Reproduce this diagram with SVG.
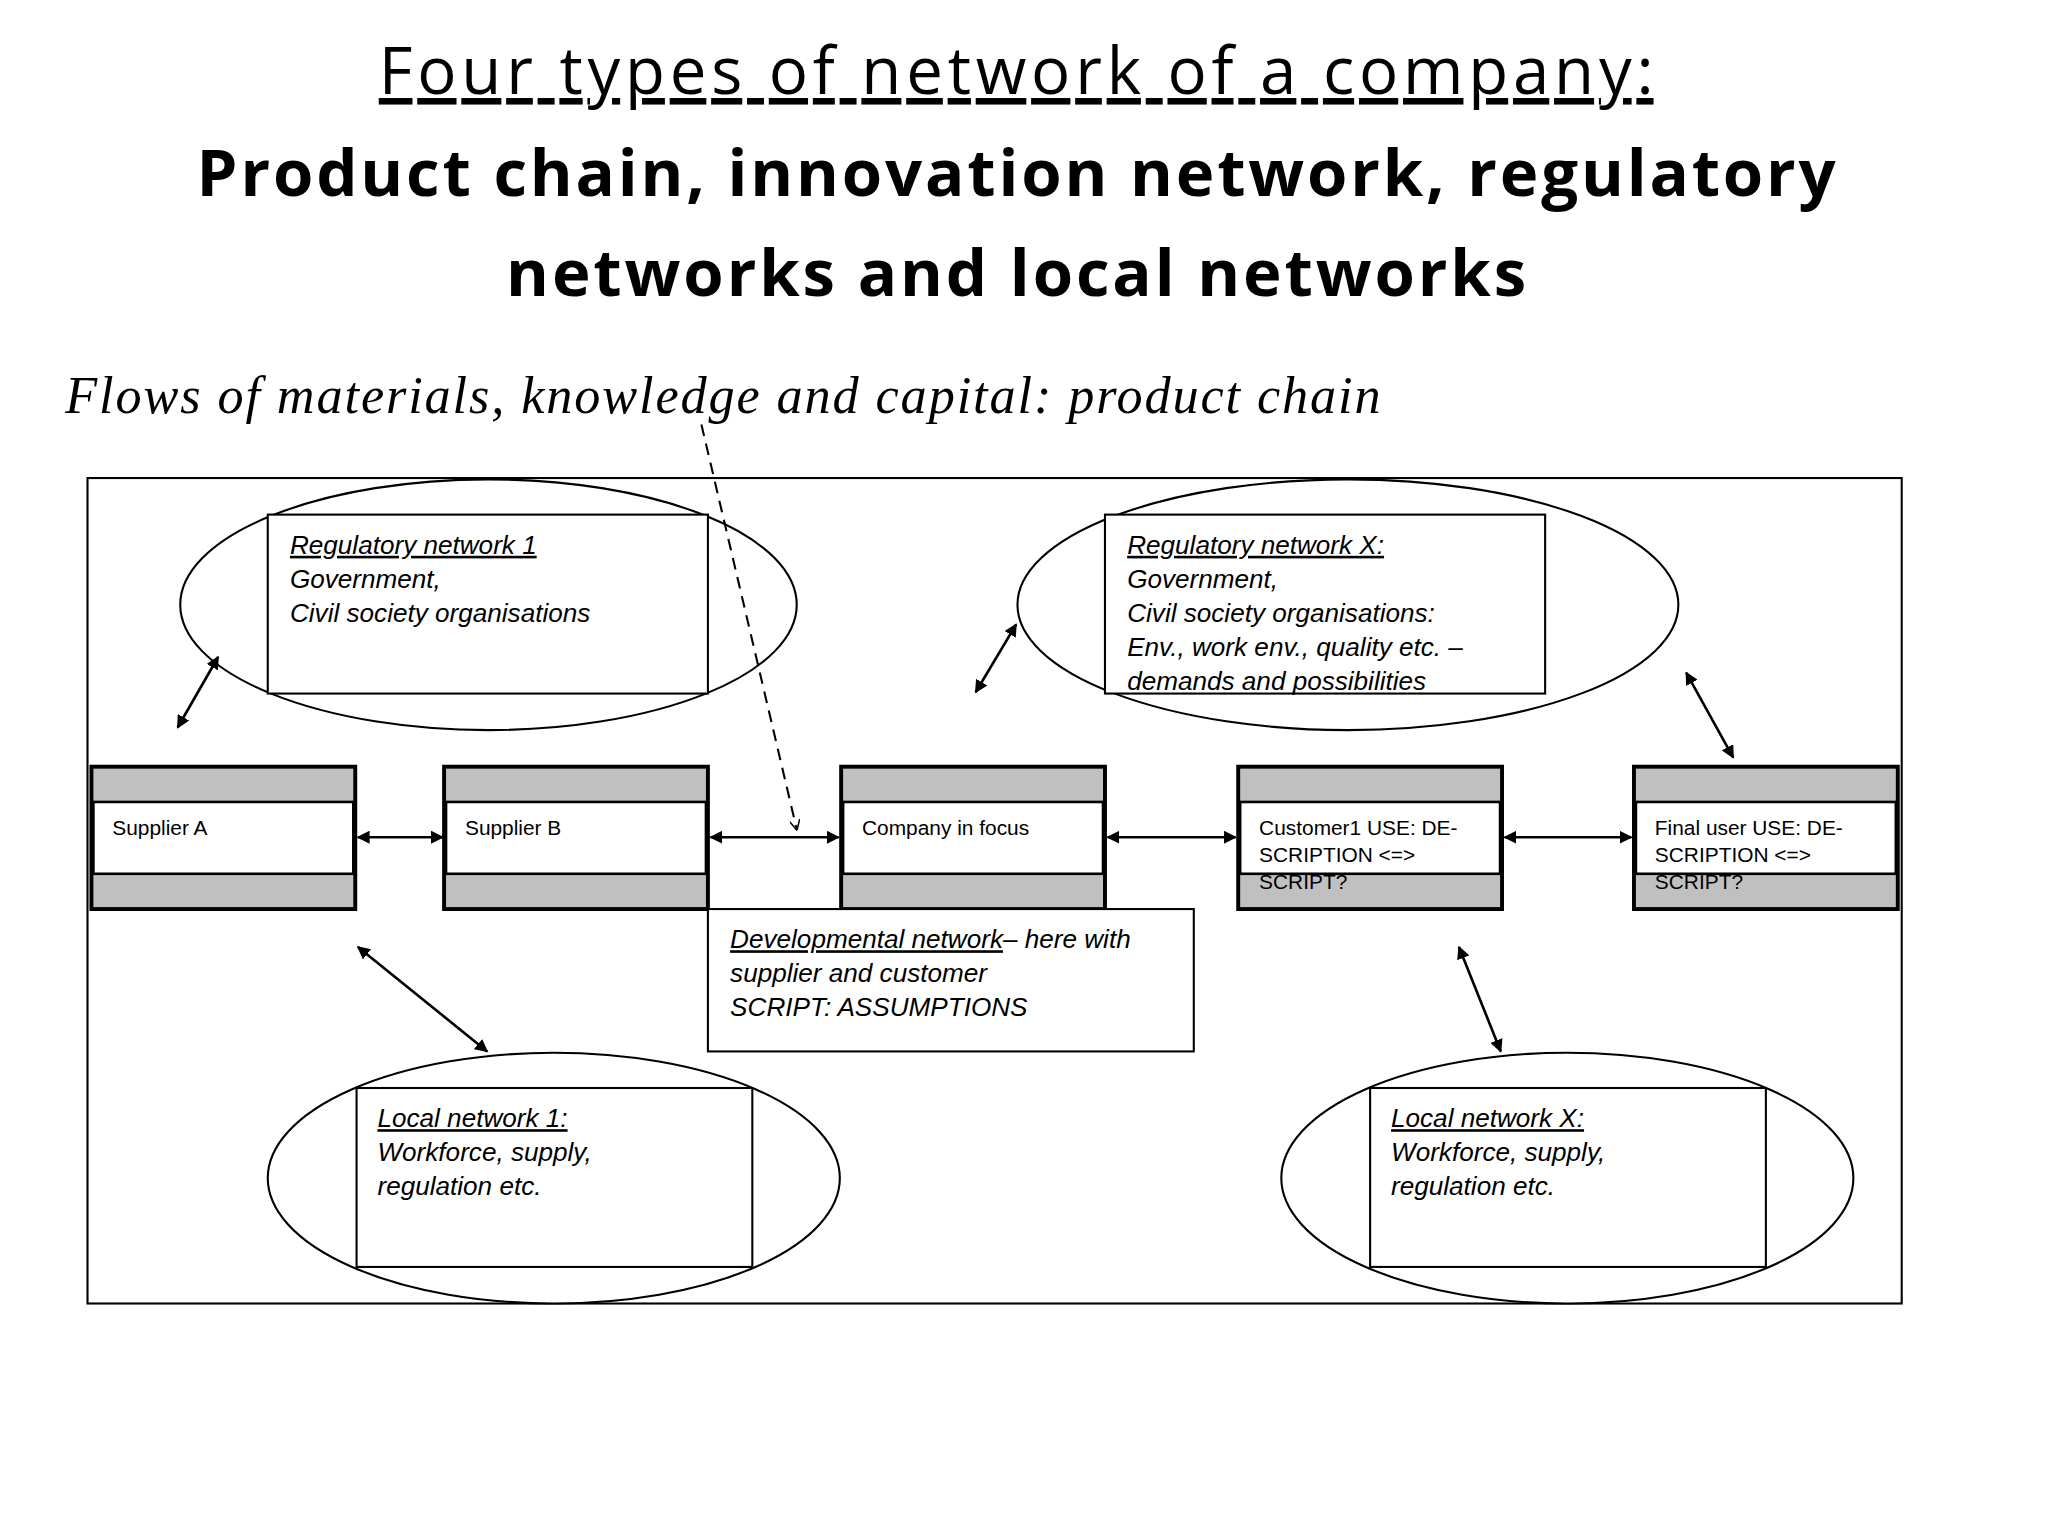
<svg xmlns="http://www.w3.org/2000/svg" width="2048" height="1536" viewBox="0 0 2048 1536">
<style>
.t{font-family:"Open Sans","Liberation Sans",sans-serif;fill:#000}
.i{font-family:"Liberation Sans",Arial,sans-serif;font-style:italic;font-size:20px}
.n{font-family:"Liberation Sans",Arial,sans-serif;font-size:16px}
.l{stroke:#000;stroke-width:1.6;fill:#fff}
.a{stroke:#000;stroke-width:2;fill:none;marker-start:url(#h);marker-end:url(#h)}
.g{fill:#c0c0c0;stroke:#000;stroke-width:3}
</style>
<defs>
<marker id="h" viewBox="0 0 10 10" refX="9" refY="5" markerWidth="5" markerHeight="5" orient="auto-start-reverse"><path d="M0,0L10,5L0,10z" fill="#000"/></marker>
<marker id="v" viewBox="0 0 10 10" refX="9" refY="5" markerWidth="8" markerHeight="8" orient="auto" markerUnits="userSpaceOnUse"><path d="M0,0L10,5L0,10" fill="none" stroke="#000" stroke-width="1.5"/></marker>
</defs>
<rect width="2048" height="1536" fill="#fff"/>
<g transform="scale(1.30612)">
<text class="t" x="778" y="72" font-size="50" text-anchor="middle" text-decoration="underline" textLength="976">Four types of network of a company:</text>
<text class="t" x="778" y="150" font-size="50" font-weight="bold" text-anchor="middle" textLength="1255">Product chain, innovation network, regulatory</text>
<text class="t" x="778" y="227" font-size="50" font-weight="bold" text-anchor="middle" textLength="781">networks and local networks</text>
<text x="50" y="316" font-family="Liberation Serif,serif" font-style="italic" font-size="40" textLength="1007">Flows of materials, knowledge and capital: product chain</text>
<rect x="67" y="366" width="1389" height="632" fill="none" stroke="#000" stroke-width="1.6"/>
<g id="reg1"><ellipse class="l" cx="374" cy="463" rx="236" ry="96"/><rect class="l" x="205" y="394" width="337" height="137"/>
<text class="i" x="222" y="424" text-decoration="underline">Regulatory network 1</text><text class="i" x="222" y="450">Government,</text><text class="i" x="222" y="476">Civil society organisations</text></g>
<g id="regX"><ellipse class="l" cx="1032" cy="463" rx="253" ry="96"/><rect class="l" x="846" y="394" width="337" height="137"/>
<text class="i" x="863" y="424" text-decoration="underline">Regulatory network X:</text><text class="i" x="863" y="450">Government,</text><text class="i" x="863" y="476">Civil society organisations:</text><text class="i" x="863" y="502">Env., work env., quality etc. –</text><text class="i" x="863" y="528">demands and possibilities</text></g>
<g id="supA"><rect class="g" x="70" y="587" width="202" height="109"/><rect x="71.5" y="614" width="199" height="55" fill="#fff" stroke="#000" stroke-width="2"/><text class="n" x="86" y="639">Supplier  A</text></g>
<g id="supB"><rect class="g" x="340" y="587" width="202" height="109"/><rect x="341.5" y="614" width="199" height="55" fill="#fff" stroke="#000" stroke-width="2"/><text class="n" x="356" y="639">Supplier  B</text></g>
<g id="comp"><rect class="g" x="644" y="587" width="202" height="109"/><rect x="645.5" y="614" width="199" height="55" fill="#fff" stroke="#000" stroke-width="2"/><text class="n" x="660" y="639">Company in focus</text></g>
<g id="cust"><rect class="g" x="948" y="587" width="202" height="109"/><rect x="949.5" y="614" width="199" height="55" fill="#fff" stroke="#000" stroke-width="2"/><text class="n" x="964" y="639">Customer1 USE: DE-</text><text class="n" x="964" y="660">SCRIPTION &lt;=&gt;</text><text class="n" x="964" y="681">SCRIPT?</text></g>
<g id="final"><rect class="g" x="1251" y="587" width="202" height="109"/><rect x="1252.5" y="614" width="199" height="55" fill="#fff" stroke="#000" stroke-width="2"/><text class="n" x="1267" y="639">Final user  USE: DE-</text><text class="n" x="1267" y="660">SCRIPTION &lt;=&gt;</text><text class="n" x="1267" y="681">SCRIPT?</text></g>
<g id="dev"><rect class="l" x="542" y="696" width="372" height="109"/><text class="i" x="559" y="726"><tspan text-decoration="underline">Developmental network</tspan>– here with</text><text class="i" x="559" y="752">supplier and customer</text><text class="i" x="559" y="778">SCRIPT: ASSUMPTIONS</text></g>
<g id="loc1"><ellipse class="l" cx="424" cy="902" rx="219" ry="96"/><rect class="l" x="273" y="833" width="303" height="137"/>
<text class="i" x="289" y="863" text-decoration="underline">Local network 1:</text><text class="i" x="289" y="889">Workforce, supply,</text><text class="i" x="289" y="915">regulation etc.</text></g>
<g id="locX"><ellipse class="l" cx="1200" cy="902" rx="219" ry="96"/><rect class="l" x="1049" y="833" width="303" height="137"/>
<text class="i" x="1065" y="863" text-decoration="underline">Local network X:</text><text class="i" x="1065" y="889">Workforce, supply,</text><text class="i" x="1065" y="915">regulation etc.</text></g>
<g id="connectors">
<line class="a" x1="274" y1="641" x2="339" y2="641"/>
<line class="a" x1="544" y1="641" x2="642" y2="641"/>
<line class="a" x1="848" y1="641" x2="946" y2="641"/>
<line class="a" x1="1152" y1="641" x2="1249" y2="641"/>
<line class="a" x1="136" y1="557" x2="167" y2="503"/>
<line class="a" x1="747" y1="530" x2="778" y2="478"/>
<line class="a" x1="1291" y1="515" x2="1327" y2="580"/>
<line class="a" x1="274" y1="725" x2="373" y2="805"/>
<line class="a" x1="1117" y1="725" x2="1149" y2="805"/>
<line x1="537" y1="325" x2="610" y2="635" stroke="#000" stroke-width="1.6" stroke-dasharray="9,6" marker-end="url(#v)"/>
</g>
</g>
</svg>
